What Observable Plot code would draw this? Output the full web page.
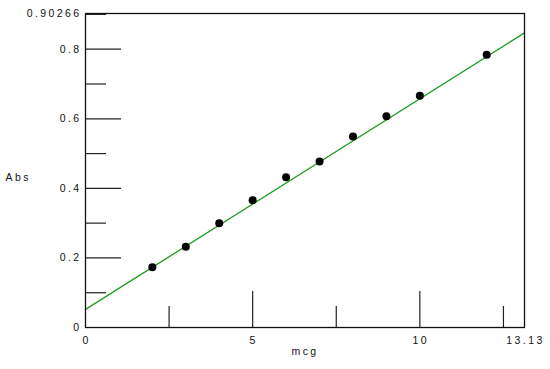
<!DOCTYPE html>
<html>
<head>
<meta charset="utf-8">
<script src="https://cdn.jsdelivr.net/npm/d3@7"></script>
<script src="https://cdn.jsdelivr.net/npm/@observablehq/plot@0.6"></script>
<style>
  html, body { margin: 0; padding: 0; background: #fff; }
  #chart svg text { letter-spacing: 2.4px; }
</style>
</head>
<body>
<div id="chart"></div>
<script>
// Data
const mcg = [2, 3, 4, 5, 6, 7, 8, 9, 10, 12];
const abs = [0.173, 0.232, 0.300, 0.366, 0.432, 0.477, 0.549, 0.607, 0.666, 0.784];

// Fitted line end points
const fitX = [0, 13.13];
const fitY = [0.052, 0.847];

// Axis ticks
const xLabelTicks = [0, 5, 10, 13.13];
const xLabelText = ["0", "5", "10", "13.13"];
const yLabelTicks = [0, 0.2, 0.4, 0.6, 0.8, 0.90266];
const yLabelText = ["0", "0.2", "0.4", "0.6", "0.8", "0.90266"];
const xMajor = [5, 10];
const xMinor = [2.5, 7.5, 12.5];
const yMajor = [0.2, 0.4, 0.6, 0.8];
const yMinor = [0.1, 0.3, 0.5, 0.7, 0.9];

const xDomain = [0, 13.13];
const yDomain = [0, 0.90266];

const W = 550, H = 369;
const mL = 85, mR = 26, mT = 13, mB = 42;
const pw = W - mL - mR, ph = H - mT - mB;
const majorLen = 36, minorLen = 21;

const points = mcg.map((x, i) => ({x, y: abs[i]}));
const fit = fitX.map((x, i) => ({x, y: fitY[i]}));

const chart = Plot.plot({
  width: W,
  height: H,
  marginLeft: mL,
  marginRight: mR,
  marginTop: mT,
  marginBottom: mB,
  style: {
    fontFamily: "Arial, 'Liberation Sans', sans-serif",
    fontSize: "10.5px",
    color: "#111",
    background: "#fff"
  },
  x: {domain: xDomain},
  y: {domain: yDomain},
  marks: [
    Plot.tickY(yMajor, {y: d => d, insetRight: pw - majorLen, stroke: "#222", strokeWidth: 1.2}),
    Plot.tickY(yMinor, {y: d => d, insetRight: pw - minorLen, stroke: "#222", strokeWidth: 1.2}),
    Plot.tickX(xMajor, {x: d => d, insetTop: ph - majorLen, stroke: "#222", strokeWidth: 1.2}),
    Plot.tickX(xMinor, {x: d => d, insetTop: ph - minorLen, stroke: "#222", strokeWidth: 1.2}),
    Plot.line(fit, {x: "x", y: "y", stroke: "#1f9a1f", strokeWidth: 1.3}),
    Plot.dot(points, {x: "x", y: "y", r: 4, fill: "#000", stroke: "none"}),
    Plot.frame({stroke: "#111", strokeWidth: 1.3}),
    Plot.axisX(xLabelTicks, {tickSize: 0, tickPadding: 9, dx: 1, tickFormat: (d) => xLabelText[xLabelTicks.indexOf(d)], label: null}),
    Plot.axisY(yLabelTicks, {tickSize: 0, tickPadding: 4, tickFormat: (d) => yLabelText[yLabelTicks.indexOf(d)], label: null}),
    Plot.text(["mcg"], {frameAnchor: "bottom", dy: 27, text: d => d, fill: "#111"}),
    Plot.text(["Abs"], {frameAnchor: "left", dx: -80, dy: 7, textAnchor: "start", text: d => d, fill: "#111"})
  ]
});
document.getElementById("chart").appendChild(chart);
</script>
</body>
</html>
